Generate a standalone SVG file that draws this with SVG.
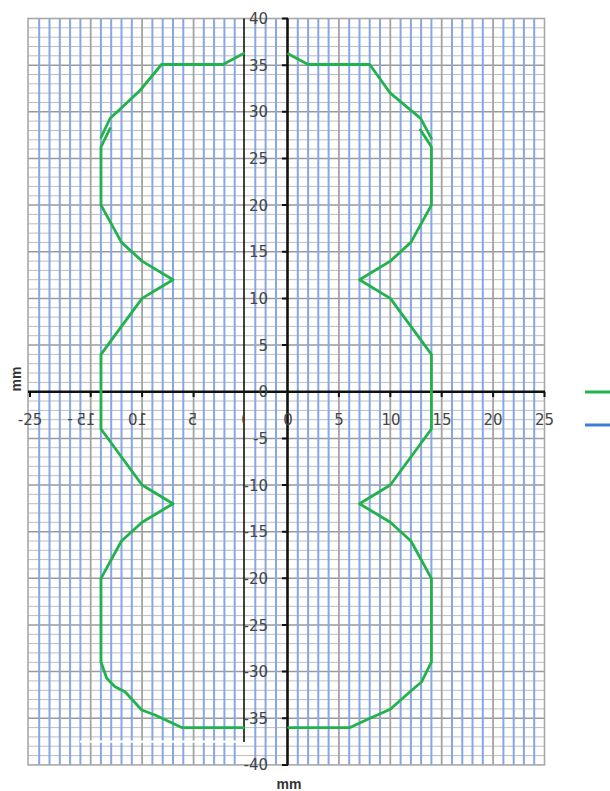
<svg xmlns="http://www.w3.org/2000/svg" width="610" height="791" viewBox="0 0 610 791">
<defs>
<style>
.hmin{stroke:#bdbdbd;stroke-width:1;fill:none}
.hmaj{stroke:#9a9a9a;stroke-width:1.5;fill:none}
.vblue{stroke:#86a7e4;stroke-width:2;fill:none}
.vgray{stroke:#a4a4a4;stroke-width:1.8;fill:none}
.axis{stroke:#111;fill:none}
.curve{fill:none;stroke:#22b24c;stroke-width:2.8;stroke-linejoin:round;stroke-linecap:round}
.lbl{font-family:"DejaVu Sans","Liberation Sans",sans-serif;font-size:15px;fill:#454545}
.ttl{font-family:"Liberation Sans",Arial,sans-serif;font-size:14px;font-weight:bold;fill:#333}
</style>
<clipPath id="cut0"><rect x="230" y="400" width="14" height="40"/></clipPath>
</defs>
<rect width="610" height="791" fill="#fff"/>
<g id="grid">
<path class="hmin" d="M28 27.8H545M28 37.2H545M28 46.5H545M28 55.8H545M28 74.5H545M28 83.8H545M28 93.1H545M28 102.5H545M28 121.1H545M28 130.5H545M28 139.8H545M28 149.1H545M28 167.8H545M28 177.1H545M28 186.4H545M28 195.8H545M28 214.4H545M28 223.8H545M28 233.1H545M28 242.4H545M28 261.1H545M28 270.4H545M28 279.7H545M28 289.1H545M28 307.7H545M28 317.1H545M28 326.4H545M28 335.7H545M28 354.4H545M28 363.7H545M28 373H545M28 382.4H545M28 401H545M28 410.4H545M28 419.7H545M28 429H545M28 447.7H545M28 457H545M28 466.3H545M28 475.7H545M28 494.3H545M28 503.7H545M28 513H545M28 522.3H545M28 541H545M28 550.3H545M28 559.6H545M28 569H545M28 587.6H545M28 597H545M28 606.3H545M28 615.6H545M28 634.3H545M28 643.6H545M28 652.9H545M28 662.3H545M28 680.9H545M28 690.3H545M28 699.6H545M28 708.9H545M28 727.6H545M28 736.9H545M28 746.2H545M28 755.6H545"/>
<path class="hmaj" d="M28 65.2H545M28 111.8H545M28 158.5H545M28 205.1H545M28 251.8H545M28 298.4H545M28 345.1H545M28 438.4H545M28 485H545M28 531.7H545M28 578.3H545M28 625H545M28 671.6H545M28 718.3H545"/>
<path class="vblue" d="M39.2 18.5V765M49.5 18.5V765M59.8 18.5V765M70.1 18.5V765M80.4 18.5V765M100.9 18.5V765M111.2 18.5V765M121.5 18.5V765M131.8 18.5V765M152.4 18.5V765M162.7 18.5V765M173 18.5V765M183.3 18.5V765M203.8 18.5V765M214.1 18.5V765M224.4 18.5V765M234.7 18.5V765M255.3 18.5V765M265.6 18.5V765M276 18.5V765M297.8 18.5V765M308.1 18.5V765M318.3 18.5V765M328.6 18.5V765M349.2 18.5V765M359.5 18.5V765M369.7 18.5V765M380 18.5V765M400.6 18.5V765M410.9 18.5V765M421.1 18.5V765M431.4 18.5V765M452 18.5V765M462.3 18.5V765M472.5 18.5V765M482.8 18.5V765M503.4 18.5V765M513.7 18.5V765M523.9 18.5V765M534.2 18.5V765"/>
<path class="vgray" d="M90.7 18.5V765M142.1 18.5V765M193.6 18.5V765M338.9 18.5V765M390.3 18.5V765M441.7 18.5V765M493.1 18.5V765"/>
<line x1="80" y1="741.6" x2="243" y2="741.6" stroke="#fff" stroke-width="2.2" stroke-dasharray="6 4"/>
<rect x="28" y="18.5" width="516.5" height="746.4" fill="none" stroke="#a8a8a8" stroke-width="1.6"/>
</g>
<g id="axes">
<line class="axis" x1="244" y1="18.5" x2="244" y2="742" stroke-width="1.6" stroke="#333"/>
<line class="axis" x1="28" y1="391.7" x2="545" y2="391.7" stroke-width="2.6"/>
<line class="axis" x1="287.5" y1="18.5" x2="287.5" y2="765" stroke-width="2.6"/>
<path class="axis" stroke-width="2" d="M282 18.5H288M282 65.2H288M282 111.8H288M282 158.5H288M282 205.1H288M282 251.8H288M282 298.4H288M282 345.1H288M282 438.4H288M282 485H288M282 531.7H288M282 578.3H288M282 625H288M282 671.6H288M282 718.3H288M282 764.9H288"/>
<path class="axis" stroke-width="2" d="M30 391.7V397M90.7 391.7V397M142.1 391.7V397M193.6 391.7V397M338.9 391.7V397M390.3 391.7V397M441.7 391.7V397M493.1 391.7V397M544.5 391.7V397"/>
</g>
<g id="curve-left">
<path class="curve" d="M243.5 53.5L223 64.5L161.5 64.5L140 90.5L110 118.5L101 137.5"/>
<path class="curve" d="M110 128.5L101 147L101 205.1L121.5 242.4L142.1 261.1L173 279.7L142.1 298.4L121.5 326.4L101 354.4L101 429L121.5 457L142.1 485L173 503.7L142.1 522.3L121.5 541L101 578.3L101 662L106.7 678.3L115 686.7L125 691.7L141.7 710L155 715L181.7 727.6L243.5 727.6"/>
</g>
<g id="curve-right">
<path class="curve" d="M288.5 54L308.1 64.5L369.7 64.5L390.3 93.2L420.6 118.4L431.4 138.3"/>
<path class="curve" d="M420.5 130L431.4 146.7L431.4 205.1L410.9 242.4L390.3 261.1L359.5 279.7L390.3 298.4L410.9 326.4L431.4 354.4L431.4 429L410.9 457L390.3 485L359.5 503.7L390.3 522.3L410.9 541L431.4 578.3L431.4 662L421.7 681.7L410 691.7L390.3 709.3L370 718.3L350 727.6L288.5 727.6"/>
</g>
<g id="y-labels" class="lbl" text-anchor="end">
<text x="268" y="24">40</text>
<text x="268" y="70.7">35</text>
<text x="268" y="117.3">30</text>
<text x="268" y="164">25</text>
<text x="268" y="210.6">20</text>
<text x="268" y="257.3">15</text>
<text x="268" y="303.9">10</text>
<text x="268" y="350.6">5</text>
<text x="268" y="397.2">0</text>
<text x="268" y="443.9">-5</text>
<text x="268" y="490.5">-10</text>
<text x="268" y="537.2">-15</text>
<text x="268" y="583.8">-20</text>
<text x="268" y="630.5">-25</text>
<text x="268" y="677.1">-30</text>
<text x="268" y="723.8">-35</text>
<text x="268" y="770.4">-40</text>
</g>
<g id="x-labels" class="lbl" text-anchor="middle">
<text x="288" y="425">0</text>
<text x="339" y="425">5</text>
<text x="391" y="425">10</text>
<text x="442" y="425">15</text>
<text x="493" y="425">20</text>
<text x="544.5" y="425">25</text>
<text x="30" y="425">-25</text>
<text x="70" y="424">-</text>
<text transform="translate(86,425) scale(-1,1)">15</text>
<text transform="translate(137.5,425) scale(-1,1)">10</text>
<text transform="translate(192.5,425) scale(-1,1)">5</text>
<g clip-path="url(#cut0)"><text transform="translate(246,425) scale(-1,1)">0</text></g>
</g>
<g id="titles" class="ttl" text-anchor="middle">
<text x="289" y="789">mm</text>
<text transform="translate(21,379) rotate(-90)">mm</text>
</g>
<g id="legend">
<line x1="585" y1="392" x2="610" y2="392" stroke="#22b24c" stroke-width="3"/>
<line x1="585" y1="425" x2="610" y2="425" stroke="#3a7fd5" stroke-width="3"/>
</g>
</svg>
